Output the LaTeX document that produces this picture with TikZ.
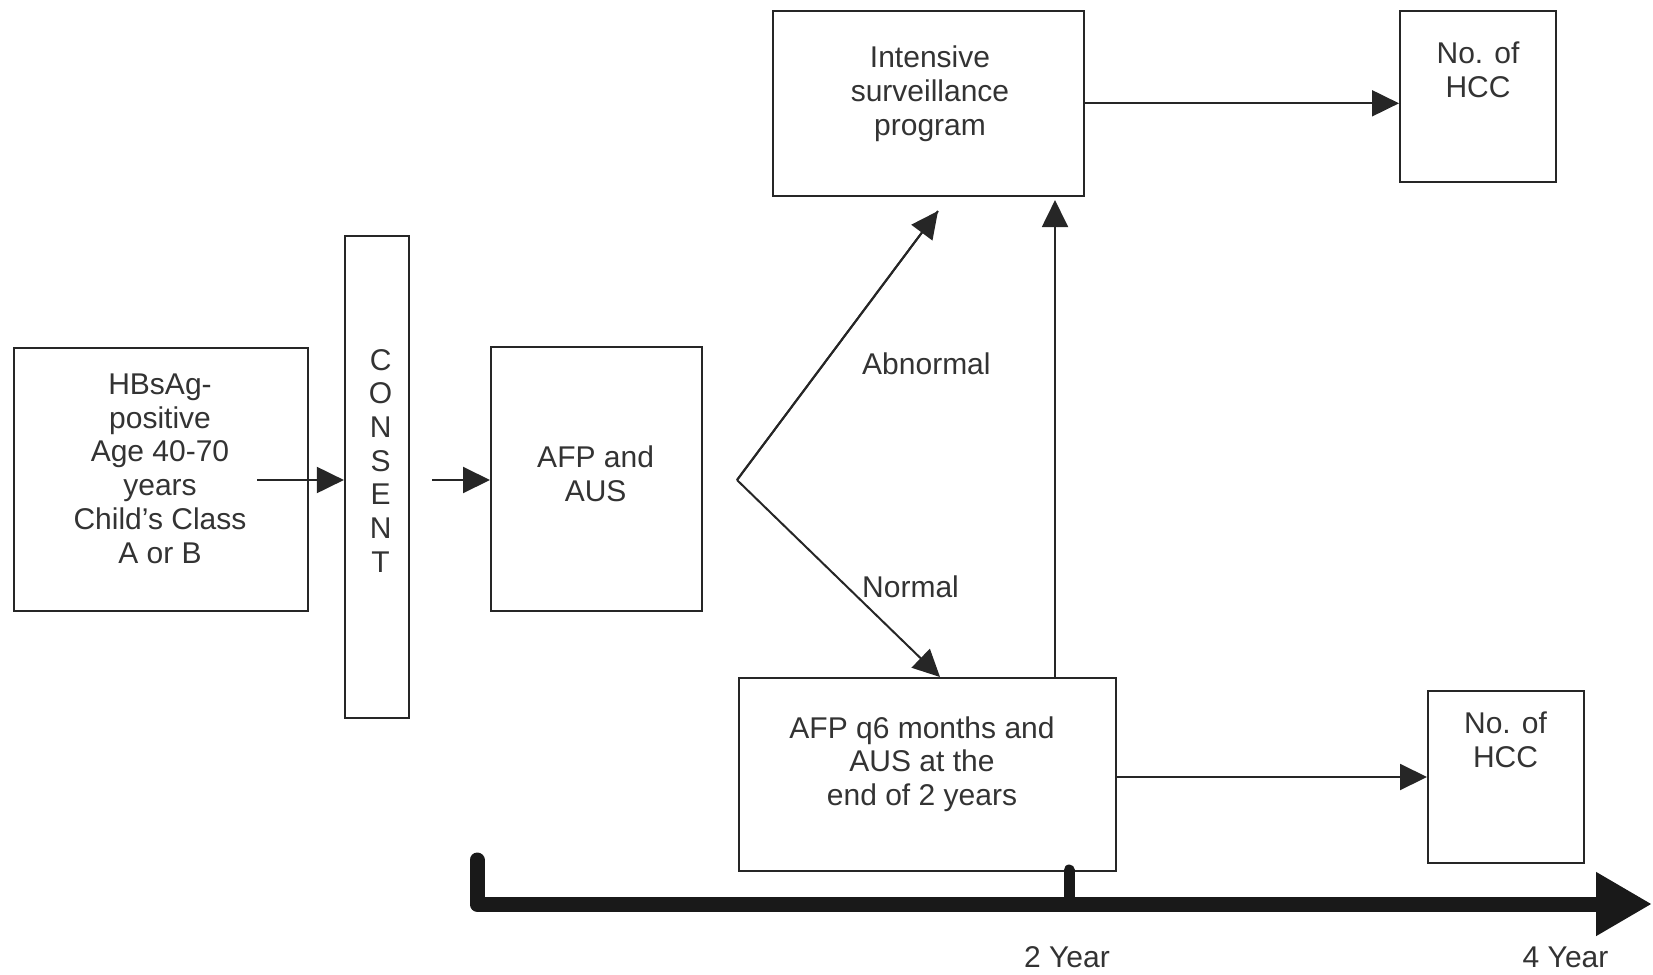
\documentclass[tikz,border=0pt]{standalone}
\usepackage{fontspec}
\setmainfont{Liberation Sans}
\usetikzlibrary{arrows.meta}
\begin{document}
\begin{tikzpicture}[x=1pt,y=-1pt,
  box/.style={draw=black!85,line width=2pt,minimum width=#1,inner sep=0pt},
  txt/.style={text=black!80,align=center,inner sep=0pt,font=\fontsize{30}{33.7}\selectfont},
  lbl/.style={text=black!80,inner sep=0pt,font=\fontsize{30}{33.7}\selectfont},
  arr/.style={draw=black!85,line width=2pt,-{Triangle[length=27pt,width=26pt]}},
  ln/.style={draw=black!85,line width=2pt}]
\useasboundingbox (0,0) rectangle (1653,974);
% boxes
\node[box=294pt,minimum height=263.5pt] (hbs) at (160.75,479.6) {};
\node[box=64pt,minimum height=482pt] (consent) at (376.9,477) {};
\node[box=211pt,minimum height=264pt] (afp) at (596.5,479) {};
\node[box=311pt,minimum height=185.5pt] (intens) at (928.5,103.3) {};
\node[box=156pt,minimum height=171.5pt] (hcc1) at (1478,96.3) {};
\node[box=377pt,minimum height=193pt] (q6) at (927.5,774.5) {};
\node[box=156pt,minimum height=171.5pt] (hcc2) at (1506,777) {};
% texts
\node[txt] (thbs) at (160,468.6) {HBsAg-\\positive\\Age 40-70\\years\\Child’s Class\\A or B};
\node[txt] (tcons) at (380.6,460.7) {C\\O\\N\\S\\E\\N\\T};
\node[txt] (tafp) at (595.6,474) {AFP and\\AUS};
\node[txt] (tint) at (930,93.6) {Intensive\\surveillance\\program};
\node[txt] (thcc1) at (1478,70) {No. of\\HCC};
\node[txt] (thcc2) at (1505.5,739.5) {No. of\\HCC};
\node[txt] (tq6) at (922,764) {AFP q6 months and\\AUS at the\\end of 2 years};
\node[lbl,anchor=west] (tab) at (862,363.7) {Abnormal};
\node[lbl,anchor=west] (tno) at (862,587) {Normal};
\node[lbl] (y2) at (1067,957) {2 Year};
\node[lbl] (y4) at (1565.5,957) {4 Year};
% connectors
\coordinate (a1) at (257,480);
\coordinate (a2) at (432,480);
\coordinate (v) at (737,480);
\coordinate (up) at (938,211);
\coordinate (vx) at (1055,0);
\draw[arr] (a1) -- (consent.west |- a1);
\draw[arr] (a2) -- (afp.west |- a2);
\draw[ln] (up) -- (v);
\draw[arr] (v) -- (up);
\draw[arr] (v) -- (q6.north -| 940,0);
\draw[arr,shorten >=3pt] (q6.north -| vx) -- (intens.south -| vx);
\draw[arr] (intens.east) -- (hcc1.west |- intens.east);
\draw[arr] (q6.east |- hcc2.west) -- (hcc2.west);
% timeline
\coordinate (t0) at (477,860);
\coordinate (t1) at (477,904);
\coordinate (tend) at (1652,904);
\coordinate (m1) at (1069,870);
\draw[black!90,line width=15pt,line cap=round,line join=round] (t0) -- (t1) -- ++(10,0);
\draw[black!90,line width=15pt,-{Triangle[length=56pt,width=60pt]}] (t1) -- (tend);
\draw[black!90,line width=11pt,line cap=round] (m1) -- (m1 |- t1);
\end{tikzpicture}
\end{document}
